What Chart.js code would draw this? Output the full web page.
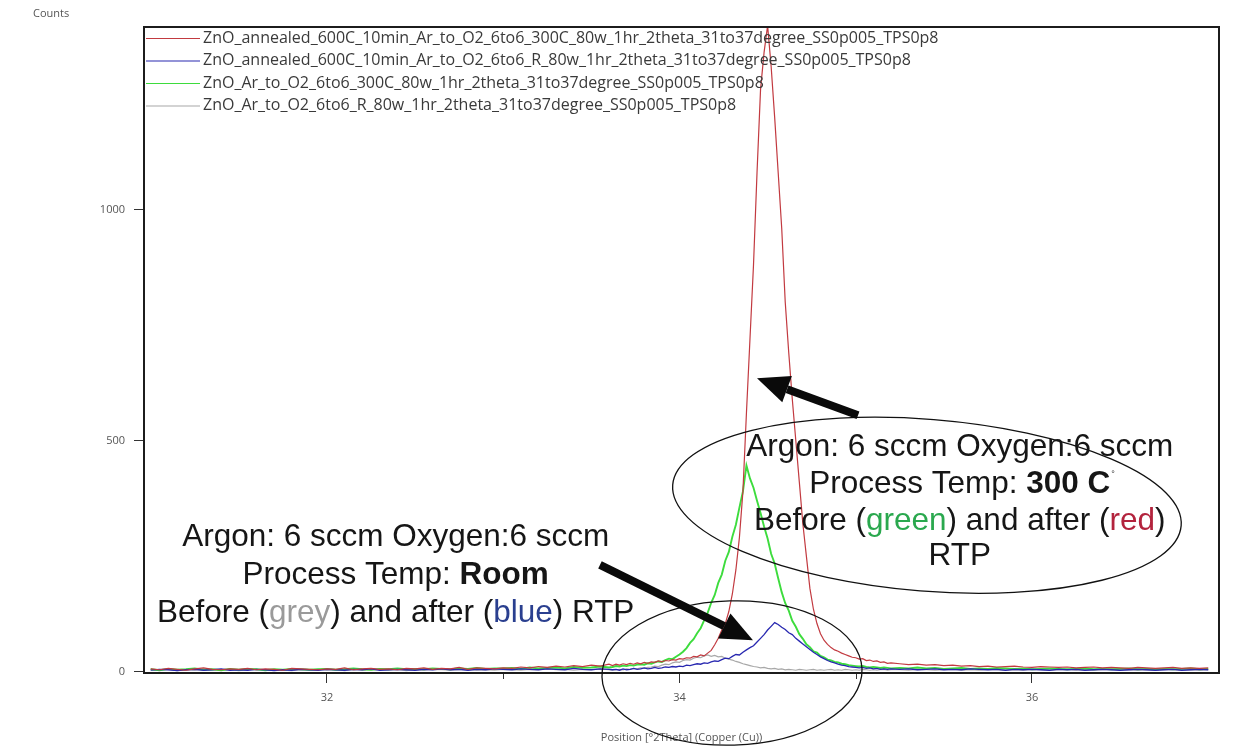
<!DOCTYPE html>
<html>
<head>
<meta charset="utf-8">
<title>ZnO XRD 2theta scan</title>
<script src="https://cdn.jsdelivr.net/npm/chart.js@4.4.1/dist/chart.umd.min.js"></script>
<style>
  html, body { margin: 0; padding: 0; background: #fff; }
  #chart { display: block; }
</style>
</head>
<body>
<canvas id="chart" width="1235" height="753"></canvas>
<script>
"use strict";
// Positions [°2Theta] : pas de 0.05 hors du pic, 0.02 autour du pic
const twoTheta = [
    31.00, 31.05, 31.10, 31.15, 31.20, 31.25, 31.30, 31.35, 31.40, 31.45,
    31.50, 31.55, 31.60, 31.65, 31.70, 31.75, 31.80, 31.85, 31.90, 31.95,
    32.00, 32.05, 32.10, 32.15, 32.20, 32.25, 32.30, 32.35, 32.40, 32.45,
    32.50, 32.55, 32.60, 32.65, 32.70, 32.75, 32.80, 32.85, 32.90, 32.95,
    33.00, 33.05, 33.10, 33.15, 33.20, 33.25, 33.30, 33.35, 33.40, 33.45,
    33.50, 33.55, 33.60,
    33.62, 33.64, 33.66, 33.68, 33.70, 33.72, 33.74, 33.76, 33.78, 33.80,
    33.82, 33.84, 33.86, 33.88, 33.90, 33.92, 33.94, 33.96, 33.98, 34.00,
    34.02, 34.04, 34.06, 34.08, 34.10, 34.12, 34.14, 34.16, 34.18, 34.20,
    34.22, 34.24, 34.26, 34.28, 34.30, 34.32, 34.34, 34.36, 34.38, 34.40,
    34.42, 34.44, 34.46, 34.48, 34.50, 34.52, 34.54, 34.56, 34.58, 34.60,
    34.62, 34.64, 34.66, 34.68, 34.70, 34.72, 34.74, 34.76, 34.78, 34.80,
    34.82, 34.84, 34.86, 34.88, 34.90, 34.92, 34.94, 34.96, 34.98, 35.00,
    35.02, 35.04, 35.06, 35.08, 35.10, 35.12, 35.14, 35.16, 35.18, 35.20,
    35.25, 35.30, 35.35, 35.40, 35.45, 35.50, 35.55, 35.60, 35.65, 35.70,
    35.75, 35.80, 35.85, 35.90, 35.95, 36.00, 36.05, 36.10, 36.15, 36.20,
    36.25, 36.30, 36.35, 36.40, 36.45, 36.50, 36.55, 36.60, 36.65, 36.70,
    36.75, 36.80, 36.85, 36.90, 36.95, 37.00
];
// 300C, après RTP (rouge)
const counts300Annealed = [
    6, 4, 7, 5, 3, 6, 8, 5, 4, 6,
    5, 7, 4, 6, 5, 3, 7, 6, 5, 4,
    6, 5, 8, 4, 6, 7, 5, 6, 4, 7,
    6, 8, 5, 7, 6, 9, 5, 8, 7, 6,
    8, 7, 10, 8, 11, 9, 12, 10, 13, 11,
    14, 12, 16,
    13, 16, 14, 17, 15, 18, 16, 19, 17, 20,
    18, 21, 20, 23, 21, 24, 23, 26, 25, 28,
    27, 30, 29, 33, 32, 36, 34, 40, 46, 58,
    72, 90, 104, 130, 168, 220, 290, 390, 560, 720,
    880, 1080, 1260, 1340, 1398, 1310, 1200, 1080, 960, 800,
    690, 590, 500, 410, 320, 250, 180, 135, 104, 82,
    68, 59, 52, 47, 44, 40, 37, 34, 31, 30,
    27, 28, 24, 25, 22, 23, 20, 21, 18, 19,
    17, 15, 16, 14, 15, 13, 14, 12, 13, 11,
    12, 10, 11, 12, 10, 9, 11, 10, 9, 10,
    8, 9, 10, 8, 9, 8, 7, 9, 8, 7,
    8, 9, 7, 8, 7, 8
];
// Room temp, après RTP (bleu)
const countsRoomAnnealed = [
    3, 5, 4, 2, 4, 5, 3, 4, 6, 3,
    4, 3, 5, 4, 2, 4, 3, 5, 4, 3,
    5, 4, 3, 5, 4, 6, 3, 4, 5, 4,
    3, 5, 4, 6, 4, 5, 3, 5, 4, 6,
    5, 4, 6, 5, 4, 6, 5, 4, 7, 5,
    4, 6, 5,
    4, 5, 3, 6, 4, 5, 7, 5, 6, 8,
    6, 7, 9, 7, 8, 10, 9, 11, 10, 12,
    11, 14, 13, 15, 17, 16, 19, 18, 21, 23,
    22, 26, 29, 28, 33, 37, 36, 42, 47, 52,
    56, 64, 72, 80, 90, 98, 106, 102, 96, 91,
    84, 80, 72, 66, 60, 54, 48, 42, 37, 32,
    28, 24, 21, 19, 16, 14, 13, 11, 10, 9,
    8, 9, 7, 8, 6, 7, 5, 6, 5, 6,
    5, 6, 4, 5, 6, 4, 5, 4, 6, 5,
    4, 5, 3, 5, 4, 5, 4, 3, 5, 4,
    5, 3, 4, 5, 4, 3, 4, 5, 4, 3,
    4, 5, 3, 4, 5, 4
];
// 300C, avant RTP (vert)
const counts300AsDeposited = [
    5, 3, 6, 4, 5, 7, 4, 5, 3, 6,
    4, 6, 5, 3, 5, 4, 6, 5, 4, 5,
    6, 4, 5, 7, 5, 4, 6, 5, 7, 5,
    6, 5, 7, 6, 5, 7, 6, 8, 6, 7,
    7, 8, 6, 9, 7, 8, 9, 7, 10, 8,
    9, 11, 9,
    10, 12, 11, 13, 12, 14, 13, 15, 16, 15,
    18, 17, 20, 22, 21, 25, 28, 27, 32, 37,
    43, 51, 62, 70, 83, 94, 111, 127, 149, 166,
    192, 210, 240, 259, 292, 318, 355, 390, 446, 418,
    398, 370, 343, 314, 288, 255, 234, 202, 172, 148,
    132, 110, 97, 81, 71, 59, 53, 44, 41, 34,
    31, 26, 24, 21, 20, 17, 16, 14, 13, 12,
    11, 12, 10, 9, 10, 9, 8, 9, 8, 7,
    8, 7, 9, 7, 8, 6, 7, 8, 6, 7,
    6, 8, 7, 6, 7, 5, 6, 7, 6, 5,
    6, 7, 5, 6, 5, 6, 7, 5, 6, 5,
    6, 5, 6, 7, 5, 6
];
// Room temp, avant RTP (gris)
const countsRoomAsDeposited = [
    4, 3, 5, 2, 4, 3, 5, 4, 3, 4,
    2, 4, 5, 3, 4, 3, 2, 4, 3, 5,
    3, 4, 2, 4, 3, 5, 4, 3, 4, 2,
    4, 3, 5, 4, 3, 4, 5, 3, 4, 3,
    5, 4, 3, 5, 4, 6, 4, 5, 3, 5,
    4, 6, 4,
    3, 4, 5, 4, 6, 5, 7, 6, 8, 7,
    9, 10, 12, 11, 14, 16, 15, 19, 21, 20,
    24, 26, 25, 29, 31, 30, 34, 36, 33, 35,
    32, 33, 29, 27, 25, 22, 20, 17, 15, 13,
    11, 10, 8, 9, 7, 6, 7, 5, 6, 4,
    5, 4, 3, 5, 4, 3, 4, 5, 3, 4,
    3, 4, 5, 3, 4, 3, 5, 4, 3, 4,
    3, 5, 4, 3, 4, 3, 4, 5, 3, 4,
    4, 3, 5, 4, 3, 4, 5, 3, 4, 3,
    5, 4, 3, 4, 3, 5, 4, 3, 4, 5,
    3, 4, 3, 4, 5, 3, 4, 3, 4, 3,
    5, 4, 3, 4, 3, 4
];
const seriesLabels = [
    'ZnO_annealed_600C_10min_Ar_to_O2_6to6_300C_80w_1hr_2theta_31to37degree_SS0p005_TPS0p8',
    'ZnO_annealed_600C_10min_Ar_to_O2_6to6_R_80w_1hr_2theta_31to37degree_SS0p005_TPS0p8',
    'ZnO_Ar_to_O2_6to6_300C_80w_1hr_2theta_31to37degree_SS0p005_TPS0p8',
    'ZnO_Ar_to_O2_6to6_R_80w_1hr_2theta_31to37degree_SS0p005_TPS0p8'
];
const xMajorTicks = [32, 34, 36];
const xMinorTicks = [33, 35];
const yTicks = [0, 500, 1000];

const ANNOT_FONT = '"Liberation Sans", Arial, sans-serif';
const UI_FONT = '"Open Sans", sans-serif';
const ANNOT_SIZE = 31.5;

function toPoints(values) {
    return twoTheta.map((t, i) => ({ x: t, y: values[i] }));
}

// Ligne de texte avec segments colorés / gras, centrée sur cx
function drawRichLine(ctx, parts, cx, cy, size) {
    let total = 0;
    parts.forEach(p => {
        ctx.font = `${p.bold ? 'bold ' : ''}${size}px ${ANNOT_FONT}`;
        p.w = ctx.measureText(p.text).width;
        total += p.w;
    });
    let cur = cx - total / 2;
    ctx.textAlign = 'left';
    ctx.textBaseline = 'middle';
    parts.forEach(p => {
        ctx.font = `${p.bold ? 'bold ' : ''}${size}px ${ANNOT_FONT}`;
        ctx.fillStyle = p.color || '#161616';
        ctx.fillText(p.text, cur, cy);
        cur += p.w;
    });
    return cx + total / 2;
}

function drawArrow(ctx, x0, y0, x1, y1) {
    const ang = Math.atan2(y1 - y0, x1 - x0);
    const head = 32, half = 14;
    const bx = x1 - Math.cos(ang) * head, by = y1 - Math.sin(ang) * head;
    ctx.strokeStyle = '#0a0a0a';
    ctx.lineWidth = 8;
    ctx.lineCap = 'butt';
    ctx.beginPath();
    ctx.moveTo(x0, y0);
    ctx.lineTo(bx, by);
    ctx.stroke();
    ctx.fillStyle = '#0a0a0a';
    ctx.beginPath();
    ctx.moveTo(x1, y1);
    ctx.lineTo(bx + Math.sin(ang) * half, by - Math.cos(ang) * half);
    ctx.lineTo(bx - Math.sin(ang) * half, by + Math.cos(ang) * half);
    ctx.closePath();
    ctx.fill();
}

const decorPlugin = {
    id: 'decor',
    afterDraw(chart) {
        const { ctx, chartArea: area, scales: { x, y } } = chart;
        const px = v => x.getPixelForValue(v);
        const py = v => y.getPixelForValue(v);
        ctx.save();

        // petites graduations 33 et 35
        ctx.strokeStyle = '#333';
        ctx.lineWidth = 1;
        xMinorTicks.forEach(v => {
            const xx = Math.round(px(v)) + 0.5;
            ctx.beginPath();
            ctx.moveTo(xx, area.bottom);
            ctx.lineTo(xx, area.bottom + 6);
            ctx.stroke();
        });

        // cadre du graphe
        ctx.strokeStyle = '#1c1c1c';
        ctx.lineWidth = 2;
        ctx.strokeRect(area.left, area.top, area.right - area.left, area.bottom - area.top);

        // légende dans le cadre
        ctx.font = `16px ${UI_FONT}`;
        ctx.textAlign = 'left';
        ctx.textBaseline = 'middle';
        chart.data.datasets.forEach((ds, i) => {
            const ly = area.top + 11 + i * 22.5;
            ctx.strokeStyle = ds.borderColor;
            ctx.lineWidth = 1.2;
            ctx.beginPath();
            ctx.moveTo(area.left + 2, ly + 0.5);
            ctx.lineTo(area.left + 56, ly + 0.5);
            ctx.stroke();
            ctx.fillStyle = '#3a3a3a';
            ctx.fillText(ds.label, area.left + 59, ly);
        });

        // titres des axes
        ctx.font = `11px ${UI_FONT}`;
        ctx.fillStyle = '#555';
        ctx.textAlign = 'left';
        ctx.fillText('Counts', 33, 14);
        ctx.textAlign = 'center';
        ctx.fillText('Position [°2Theta] (Copper (Cu))', (area.left + area.right) / 2, area.bottom + 65);

        // ellipses
        ctx.strokeStyle = '#111';
        ctx.lineWidth = 1.3;
        ctx.beginPath();
        ctx.ellipse(px(35.404), py(360), px(35.404 + 1.447) - px(35.404), py(0) - py(186), 0.08, 0, Math.PI * 2);
        ctx.stroke();
        ctx.beginPath();
        ctx.ellipse(px(34.298), py(-3), px(34.298 + 0.738) - px(34.298), py(0) - py(156), -0.03, 0, Math.PI * 2);
        ctx.stroke();

        // flèches
        drawArrow(ctx, px(35.013), py(555), px(34.44), py(635));
        drawArrow(ctx, px(33.549), py(231), px(34.417), py(68));

        // bloc de texte 300 C
        const rx = px(35.59);
        const ry = py(486);
        drawRichLine(ctx, [{ text: 'Argon: 6 sccm Oxygen:6 sccm' }], rx, ry, ANNOT_SIZE);
        const endX = drawRichLine(ctx, [{ text: 'Process Temp: ' }, { text: '300 C', bold: true }], rx, ry + 37, ANNOT_SIZE);
        ctx.font = `9px ${ANNOT_FONT}`;
        ctx.fillStyle = '#333';
        ctx.fillText('°', endX + 1, ry + 27);
        drawRichLine(ctx, [
            { text: 'Before (' }, { text: 'green', color: '#2aa84e' },
            { text: ') and after (' }, { text: 'red', color: '#b3233d' }, { text: ')' }
        ], rx, ry + 74, ANNOT_SIZE);
        drawRichLine(ctx, [{ text: 'RTP' }], rx, ry + 109, ANNOT_SIZE);

        // bloc de texte Room
        const lx = px(32.39);
        const ly0 = py(291);
        drawRichLine(ctx, [{ text: 'Argon: 6 sccm Oxygen:6 sccm' }], lx, ly0, ANNOT_SIZE);
        drawRichLine(ctx, [{ text: 'Process Temp: ' }, { text: 'Room', bold: true }], lx, ly0 + 38, ANNOT_SIZE);
        drawRichLine(ctx, [
            { text: 'Before (' }, { text: 'grey', color: '#9a9a9a' },
            { text: ') and after (' }, { text: 'blue', color: '#2a3f8f' }, { text: ') RTP' }
        ], lx, ly0 + 76, ANNOT_SIZE);

        ctx.restore();
    }
};

window.addEventListener('DOMContentLoaded', () => {
    const canvas = document.getElementById('chart');
    new Chart(canvas, {
        type: 'line',
        data: {
            datasets: [
                { label: seriesLabels[0], data: toPoints(counts300Annealed), borderColor: '#c23a40', borderWidth: 1.2 },
                { label: seriesLabels[1], data: toPoints(countsRoomAnnealed), borderColor: '#2828b0', borderWidth: 1.3 },
                { label: seriesLabels[2], data: toPoints(counts300AsDeposited), borderColor: '#3ddc3d', borderWidth: 1.9 },
                { label: seriesLabels[3], data: toPoints(countsRoomAsDeposited), borderColor: '#a8a8a8', borderWidth: 1.2 }
            ].map(ds => Object.assign(ds, { pointRadius: 0, tension: 0, fill: false }))
        },
        options: {
            responsive: false,
            animation: false,
            devicePixelRatio: 1,
            layout: { padding: { top: 27, right: 16, left: 0, bottom: 0 } },
            plugins: { legend: { display: false }, tooltip: { enabled: false } },
            scales: {
                x: {
                    type: 'linear',
                    min: 30.962,
                    max: 37.061,
                    afterFit: scale => { scale.height = 80; },
                    afterBuildTicks: scale => {
                        scale.ticks = xMajorTicks.map(v => ({ value: v }));
                    },
                    ticks: {
                        padding: 8,
                        color: '#555',
                        font: { family: UI_FONT, size: 11 },
                        maxRotation: 0,
                        callback: v => String(v)
                    },
                    grid: { drawOnChartArea: false, drawTicks: true, tickLength: 10, tickColor: '#333' },
                    border: { display: false }
                },
                y: {
                    type: 'linear',
                    min: -3,
                    max: 1395,
                    afterFit: scale => { scale.width = 144; },
                    afterBuildTicks: scale => {
                        scale.ticks = yTicks.map(v => ({ value: v }));
                    },
                    ticks: {
                        padding: 9,
                        color: '#555',
                        font: { family: UI_FONT, size: 11 },
                        callback: v => String(v)
                    },
                    grid: { drawOnChartArea: false, drawTicks: true, tickLength: 10, tickColor: '#333' },
                    border: { display: false }
                }
            }
        },
        plugins: [decorPlugin]
    });
});
</script>
</body>
</html>
